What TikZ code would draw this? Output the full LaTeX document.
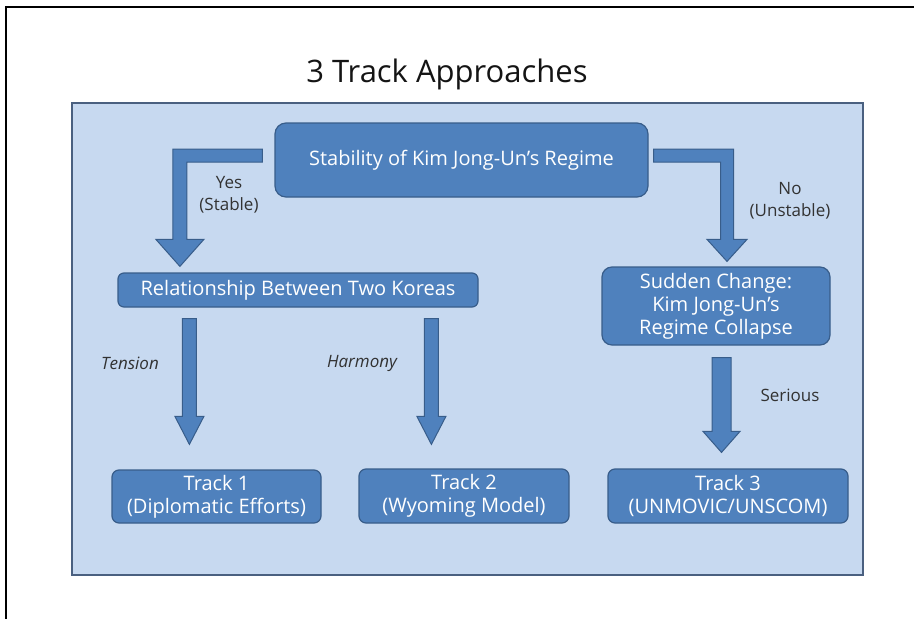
\documentclass[tikz,border=0pt]{standalone}
\usepackage{fontspec}
\setmainfont{Open Sans}
\usepackage{xcolor}
\usepackage{tikz}
\usetikzlibrary{calc,positioning}
\definecolor{panelfill}{RGB}{199,217,240}
\definecolor{panelline}{RGB}{74,96,128}
\definecolor{boxfill}{RGB}{79,129,189}
\definecolor{boxline}{RGB}{56,93,138}
\definecolor{labeltext}{RGB}{50,50,50}
\definecolor{titletext}{RGB}{20,20,20}

\begin{document}
\begin{tikzpicture}[x=1pt,y=-1pt,
  panel/.style={draw=panelline, fill=panelfill, line width=1.6pt},
  trackbox/.style={draw=boxline, fill=boxfill, line width=1.2pt, rounded corners=7pt,
    text=white, align=center, inner sep=0pt, font=\fontsize{20}{23}\selectfont},
  blockarrow/.style={draw=boxline, fill=boxfill, line width=1pt},
  branchlabel/.style={text=labeltext, align=center, inner sep=0pt,
    font=\fontsize{17}{22}\selectfont},
]
% Decision tree on a slide: one question on top, two branches, three
% tracks at the bottom. Units are pixels of the slide (y grows down).
% Arrows are FILLED BLOCK ARROWS (PowerPoint style), drawn as explicit
% polygons between named points -- a shaft, a wide head, a tip.
\def\downblock#1#2#3#4#5{% top, tip, shaft half, head half, head length
  \path[blockarrow] let \p1=#1, \p2=#2 in
    (\x1-#3,\y1) -- (\x1+#3,\y1) -- (\x1+#3,\y2+#5) -- (\x1+#4,\y2+#5)
    -- (\x1,\y2) -- (\x1-#4,\y2+#5) -- (\x1-#3,\y2+#5) -- cycle;}
\useasboundingbox (0,0) rectangle (914,619);
% slide frame (only top and left edges show)
\draw[line width=1.5pt] (6,619) -- (6,7) -- (914,7);
\node[font=\fontsize{31}{36}\selectfont, text=titletext, anchor=base] (title) at (447,82) {3 Track Approaches};
\draw[panel] (72,103) rectangle (863,575);
% Question and first branches
\node[trackbox, rounded corners=11pt, minimum width=373pt, minimum height=74pt] (stab) at (461.5,160) {Stability of Kim Jong-Un’s Regime};
\node[trackbox, rounded corners=6pt, minimum width=360pt, minimum height=34pt] (rel) at (298,290) {Relationship Between Two Koreas};
\node[trackbox, rounded corners=10pt, minimum width=228pt, minimum height=78pt] (sudden) at (716,306) {Sudden Change:\\Kim Jong-Un’s\\Regime Collapse};
% Tracks
\node[trackbox, minimum width=209pt, minimum height=53pt] (t1) at (216.5,496.5) {Track 1\\(Diplomatic Efforts)};
\node[trackbox, minimum width=210pt, minimum height=54pt] (t2) at (464,496) {Track 2\\(Wyoming Model)};
\node[trackbox, minimum width=240pt, minimum height=54pt] (t3) at (728,496) {Track 3\\(UNMOVIC/UNSCOM)};
% Elbow arrows out of the question
\coordinate (yesstart) at ($(stab.west)+(-12,-4.5)$);
\coordinate (yestip) at ($(rel.north west)+(62.5,-6)$);
\coordinate (nostart) at ($(stab.east)+(5,-4.5)$);
\coordinate (notip) at ($(sudden.north)+(11,-5)$);
\path[blockarrow] let \p1=(yesstart), \p2=(yestip) in
  (\x1,\y1+6.5pt) -- (\x2-7pt,\y1+6.5pt) -- (\x2-7pt,\y2+27pt) -- (\x2-24pt,\y2+27pt)
  -- (\x2,\y2) -- (\x2+24pt,\y2+27pt) -- (\x2+7pt,\y2+27pt) -- (\x2+7pt,\y1-6.5pt)
  -- (\x1,\y1-6.5pt) -- cycle;
\path[blockarrow] let \p1=(nostart), \p2=(notip) in
  (\x1,\y1+6.5pt) -- (\x2+6.5pt,\y1+6.5pt) -- (\x2+6.5pt,\y2+22pt) -- (\x2+20pt,\y2+22pt)
  -- (\x2,\y2) -- (\x2-20pt,\y2+22pt) -- (\x2-6.5pt,\y2+22pt) -- (\x2-6.5pt,\y1-6.5pt)
  -- (\x1,\y1-6.5pt) -- cycle;
% Straight arrows down to the tracks
\coordinate (tensiontop) at ($(rel.south west)+(72,11)$);
\coordinate (tensiontip) at ($(tensiontop |- t1.north)+(0,-25)$);
\coordinate (harmonytop) at ($(rel.south west)+(314,11)$);
\coordinate (harmonytip) at ($(harmonytop |- t2.north)+(0,-24)$);
\coordinate (serioustop) at ($(sudden.south)+(5.5,12)$);
\coordinate (serioustip) at ($(serioustop |- t3.north)+(0,-16)$);
\downblock{(tensiontop)}{(tensiontip)}{7pt}{14.5pt}{28pt}
\downblock{(harmonytop)}{(harmonytip)}{7pt}{14.5pt}{28pt}
\downblock{(serioustop)}{(serioustip)}{9.5pt}{18.5pt}{21pt}
% Branch labels
\node[branchlabel] (yes) at (229,195) {Yes\\(Stable)};
\node[branchlabel] (no) at (790,201) {No\\(Unstable)};
\node[branchlabel, font=\fontsize{17}{22}\selectfont\itshape] (tension) at (130,363) {Tension};
\node[branchlabel, font=\fontsize{17}{22}\selectfont\itshape] (harmony) at (362,363) {Harmony};
\node[branchlabel] (serious) at (790,395) {Serious};
\end{tikzpicture}
\end{document}
